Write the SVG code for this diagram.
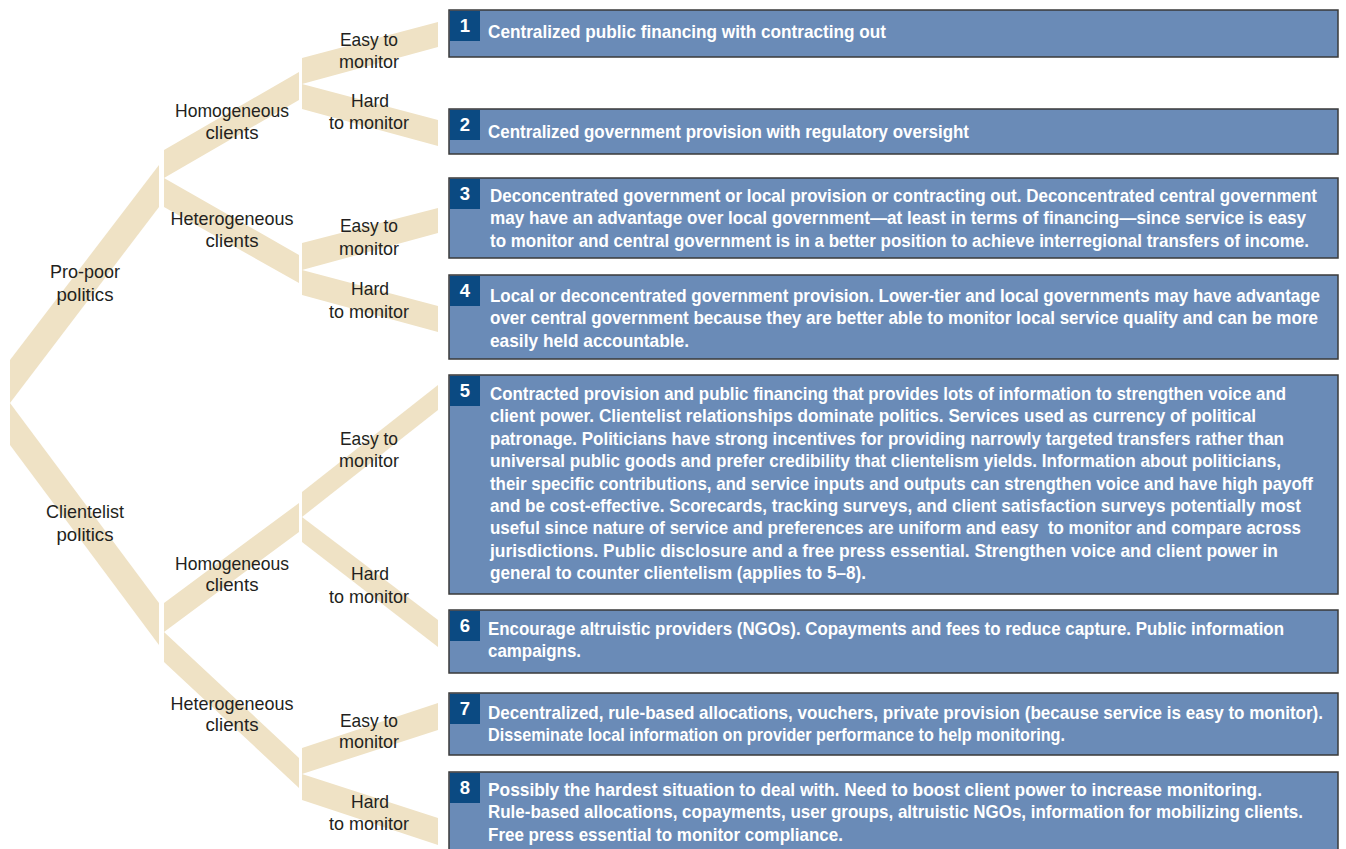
<svg xmlns="http://www.w3.org/2000/svg" width="1346" height="849" viewBox="0 0 1346 849">
<style>
.band{fill:#efe2c5}
.lbl{font-family:"Liberation Sans Narrow","Liberation Sans",Arial,sans-serif;font-size:19px;fill:#231f20;text-anchor:middle}
.box{fill:#6a8bb7;stroke:#3a3a3a;stroke-width:1.5}
.badge{fill:#0b4a82}
.num{font-family:"Liberation Sans",Arial,sans-serif;font-weight:bold;font-size:18.5px;fill:#fff;text-anchor:middle}
.txt{font-family:"Liberation Sans",Arial,sans-serif;font-weight:bold;font-size:18px;fill:#fff}
</style>
<rect width="1346" height="849" fill="#fff"/>
<g id="connectors">
<polygon class="band" points="10,360 159,165 159,207 10,403"/>
<polygon class="band" points="10,403 159,603 159,645 10,445"/>
<polygon class="band" points="164,150 299,72 299,100 164,178"/>
<polygon class="band" points="164,178 299,255 299,283 164,207"/>
<polygon class="band" points="164,603 299,503 299,532 164,632"/>
<polygon class="band" points="164,632 299,758 299,788 164,662"/>
<polygon class="band" points="302,58 438,22 438,47 302,84"/>
<polygon class="band" points="302,84 438,120 438,146 302,109"/>
<polygon class="band" points="302,243 438,208 438,233 302,270"/>
<polygon class="band" points="302,270 438,306 438,332 302,295"/>
<polygon class="band" points="302,492 438,385 438,410 302,517"/>
<polygon class="band" points="302,517 438,620 438,647 302,542"/>
<polygon class="band" points="302,748 438,703 438,730 302,774"/>
<polygon class="band" points="302,774 438,818 438,845 302,800"/>
</g>
<g id="labels">
<g id="pro-poor"><text class="lbl" x="85" y="278" textLength="70" lengthAdjust="spacingAndGlyphs">Pro-poor</text><text class="lbl" x="85" y="301" textLength="57" lengthAdjust="spacingAndGlyphs">politics</text></g>
<g id="clientelist"><text class="lbl" x="85" y="518" textLength="78" lengthAdjust="spacingAndGlyphs">Clientelist</text><text class="lbl" x="85" y="541" textLength="57" lengthAdjust="spacingAndGlyphs">politics</text></g>
<g id="pp-homog"><text class="lbl" x="232" y="117" textLength="114" lengthAdjust="spacingAndGlyphs">Homogeneous</text><text class="lbl" x="232" y="139" textLength="53" lengthAdjust="spacingAndGlyphs">clients</text></g>
<g id="pp-heter"><text class="lbl" x="232" y="225" textLength="123" lengthAdjust="spacingAndGlyphs">Heterogeneous</text><text class="lbl" x="232" y="247" textLength="53" lengthAdjust="spacingAndGlyphs">clients</text></g>
<g id="cl-homog"><text class="lbl" x="232" y="570" textLength="114" lengthAdjust="spacingAndGlyphs">Homogeneous</text><text class="lbl" x="232" y="591" textLength="53" lengthAdjust="spacingAndGlyphs">clients</text></g>
<g id="cl-heter"><text class="lbl" x="232" y="710" textLength="123" lengthAdjust="spacingAndGlyphs">Heterogeneous</text><text class="lbl" x="232" y="731" textLength="53" lengthAdjust="spacingAndGlyphs">clients</text></g>
<g id="easy1"><text class="lbl" x="369" y="46" textLength="58" lengthAdjust="spacingAndGlyphs">Easy to</text><text class="lbl" x="369" y="68" textLength="60" lengthAdjust="spacingAndGlyphs">monitor</text></g>
<g id="hard2"><text class="lbl" x="370" y="107" textLength="38" lengthAdjust="spacingAndGlyphs">Hard</text><text class="lbl" x="369" y="129" textLength="80" lengthAdjust="spacingAndGlyphs">to monitor</text></g>
<g id="easy3"><text class="lbl" x="369" y="232" textLength="58" lengthAdjust="spacingAndGlyphs">Easy to</text><text class="lbl" x="369" y="255" textLength="60" lengthAdjust="spacingAndGlyphs">monitor</text></g>
<g id="hard4"><text class="lbl" x="370" y="295" textLength="38" lengthAdjust="spacingAndGlyphs">Hard</text><text class="lbl" x="369" y="318" textLength="80" lengthAdjust="spacingAndGlyphs">to monitor</text></g>
<g id="easy5"><text class="lbl" x="369" y="445" textLength="58" lengthAdjust="spacingAndGlyphs">Easy to</text><text class="lbl" x="369" y="467" textLength="60" lengthAdjust="spacingAndGlyphs">monitor</text></g>
<g id="hard6"><text class="lbl" x="370" y="580" textLength="38" lengthAdjust="spacingAndGlyphs">Hard</text><text class="lbl" x="369" y="603" textLength="80" lengthAdjust="spacingAndGlyphs">to monitor</text></g>
<g id="easy7"><text class="lbl" x="369" y="727" textLength="58" lengthAdjust="spacingAndGlyphs">Easy to</text><text class="lbl" x="369" y="748" textLength="60" lengthAdjust="spacingAndGlyphs">monitor</text></g>
<g id="hard8"><text class="lbl" x="370" y="808" textLength="38" lengthAdjust="spacingAndGlyphs">Hard</text><text class="lbl" x="369" y="830" textLength="80" lengthAdjust="spacingAndGlyphs">to monitor</text></g>
</g>
<g id="box1"><rect class="box" x="449" y="10" width="889" height="47"/><rect class="badge" x="450" y="11" width="30" height="30"/><text class="num" x="465" y="32">1</text>
<g transform="translate(488,0) scale(0.8,1)"><text class="txt" x="0" y="38" textLength="497.5" lengthAdjust="spacingAndGlyphs">Centralized public financing with contracting out</text></g></g>
<g id="box2"><rect class="box" x="449" y="109" width="889" height="45"/><rect class="badge" x="450" y="110" width="30" height="30"/><text class="num" x="465" y="131">2</text>
<g transform="translate(488,0) scale(0.8,1)"><text class="txt" x="0" y="138" textLength="601.25" lengthAdjust="spacingAndGlyphs">Centralized government provision with regulatory oversight</text></g></g>
<g id="box3"><rect class="box" x="449" y="178" width="889" height="80"/><rect class="badge" x="450" y="179" width="30" height="30"/><text class="num" x="465" y="200">3</text>
<g transform="translate(490,0) scale(0.8,1)">
<text class="txt" x="0" y="202" textLength="1033.75" lengthAdjust="spacingAndGlyphs">Deconcentrated government or local provision or contracting out. Deconcentrated central government</text>
<text class="txt" x="0" y="224.5" textLength="1020" lengthAdjust="spacingAndGlyphs">may have an advantage over local government—at least in terms of financing—since service is easy</text>
<text class="txt" x="0" y="247" textLength="1023.75" lengthAdjust="spacingAndGlyphs">to monitor and central government is in a better position to achieve interregional transfers of income.</text></g></g>
<g id="box4"><rect class="box" x="449" y="275" width="889" height="84"/><rect class="badge" x="450" y="276" width="30" height="30"/><text class="num" x="465" y="297">4</text>
<g transform="translate(490,0) scale(0.8,1)">
<text class="txt" x="0" y="302" textLength="1037.5" lengthAdjust="spacingAndGlyphs">Local or deconcentrated government provision. Lower-tier and local governments may have advantage</text>
<text class="txt" x="0" y="324.5" textLength="1035" lengthAdjust="spacingAndGlyphs">over central government because they are better able to monitor local service quality and can be more</text>
<text class="txt" x="0" y="347" textLength="248.75" lengthAdjust="spacingAndGlyphs">easily held accountable.</text></g></g>
<g id="box5"><rect class="box" x="449" y="375" width="889" height="219"/><rect class="badge" x="450" y="376" width="30" height="30"/><text class="num" x="465" y="397">5</text>
<g transform="translate(490,0) scale(0.8,1)">
<text class="txt" x="0" y="400" textLength="995" lengthAdjust="spacingAndGlyphs">Contracted provision and public financing that provides lots of information to strengthen voice and</text>
<text class="txt" x="0" y="422.4" textLength="957.5" lengthAdjust="spacingAndGlyphs">client power. Clientelist relationships dominate politics. Services used as currency of political</text>
<text class="txt" x="0" y="444.8" textLength="992.5" lengthAdjust="spacingAndGlyphs">patronage. Politicians have strong incentives for providing narrowly targeted transfers rather than</text>
<text class="txt" x="0" y="467.2" textLength="988.75" lengthAdjust="spacingAndGlyphs">universal public goods and prefer credibility that clientelism yields. Information about politicians,</text>
<text class="txt" x="0" y="489.6" textLength="1028.75" lengthAdjust="spacingAndGlyphs">their specific contributions, and service inputs and outputs can strengthen voice and have high payoff</text>
<text class="txt" x="0" y="512" textLength="1013.75" lengthAdjust="spacingAndGlyphs">and be cost-effective. Scorecards, tracking surveys, and client satisfaction surveys potentially most</text>
<text class="txt" x="0" y="534.4" textLength="1013.75" lengthAdjust="spacingAndGlyphs" xml:space="preserve">useful since nature of service and preferences are uniform and easy  to monitor and compare across</text>
<text class="txt" x="0" y="556.8" textLength="985" lengthAdjust="spacingAndGlyphs">jurisdictions. Public disclosure and a free press essential. Strengthen voice and client power in</text>
<text class="txt" x="0" y="579.2" textLength="470" lengthAdjust="spacingAndGlyphs">general to counter clientelism (applies to 5–8).</text></g></g>
<g id="box6"><rect class="box" x="449" y="610" width="889" height="63"/><rect class="badge" x="450" y="611" width="30" height="30"/><text class="num" x="465" y="632">6</text>
<g transform="translate(488,0) scale(0.8,1)">
<text class="txt" x="0" y="635" textLength="995" lengthAdjust="spacingAndGlyphs">Encourage altruistic providers (NGOs). Copayments and fees to reduce capture. Public information</text>
<text class="txt" x="0" y="657.5" textLength="116.25" lengthAdjust="spacingAndGlyphs">campaigns.</text></g></g>
<g id="box7"><rect class="box" x="449" y="693" width="889" height="62"/><rect class="badge" x="450" y="694" width="30" height="30"/><text class="num" x="465" y="715">7</text>
<g transform="translate(488,0) scale(0.8,1)">
<text class="txt" x="0" y="719" textLength="1043.75" lengthAdjust="spacingAndGlyphs">Decentralized, rule-based allocations, vouchers, private provision (because service is easy to monitor).</text>
<text class="txt" x="0" y="741.5" textLength="721.25" lengthAdjust="spacingAndGlyphs">Disseminate local information on provider performance to help monitoring.</text></g></g>
<g id="box8"><rect class="box" x="449" y="772" width="889" height="84"/><rect class="badge" x="450" y="773" width="30" height="30"/><text class="num" x="465" y="794">8</text>
<g transform="translate(488,0) scale(0.8,1)">
<text class="txt" x="0" y="796" textLength="967.5" lengthAdjust="spacingAndGlyphs">Possibly the hardest situation to deal with. Need to boost client power to increase monitoring.</text>
<text class="txt" x="0" y="818.5" textLength="1018.75" lengthAdjust="spacingAndGlyphs">Rule-based allocations, copayments, user groups, altruistic NGOs, information for mobilizing clients.</text>
<text class="txt" x="0" y="841" textLength="443.75" lengthAdjust="spacingAndGlyphs">Free press essential to monitor compliance.</text></g></g>
</svg>
